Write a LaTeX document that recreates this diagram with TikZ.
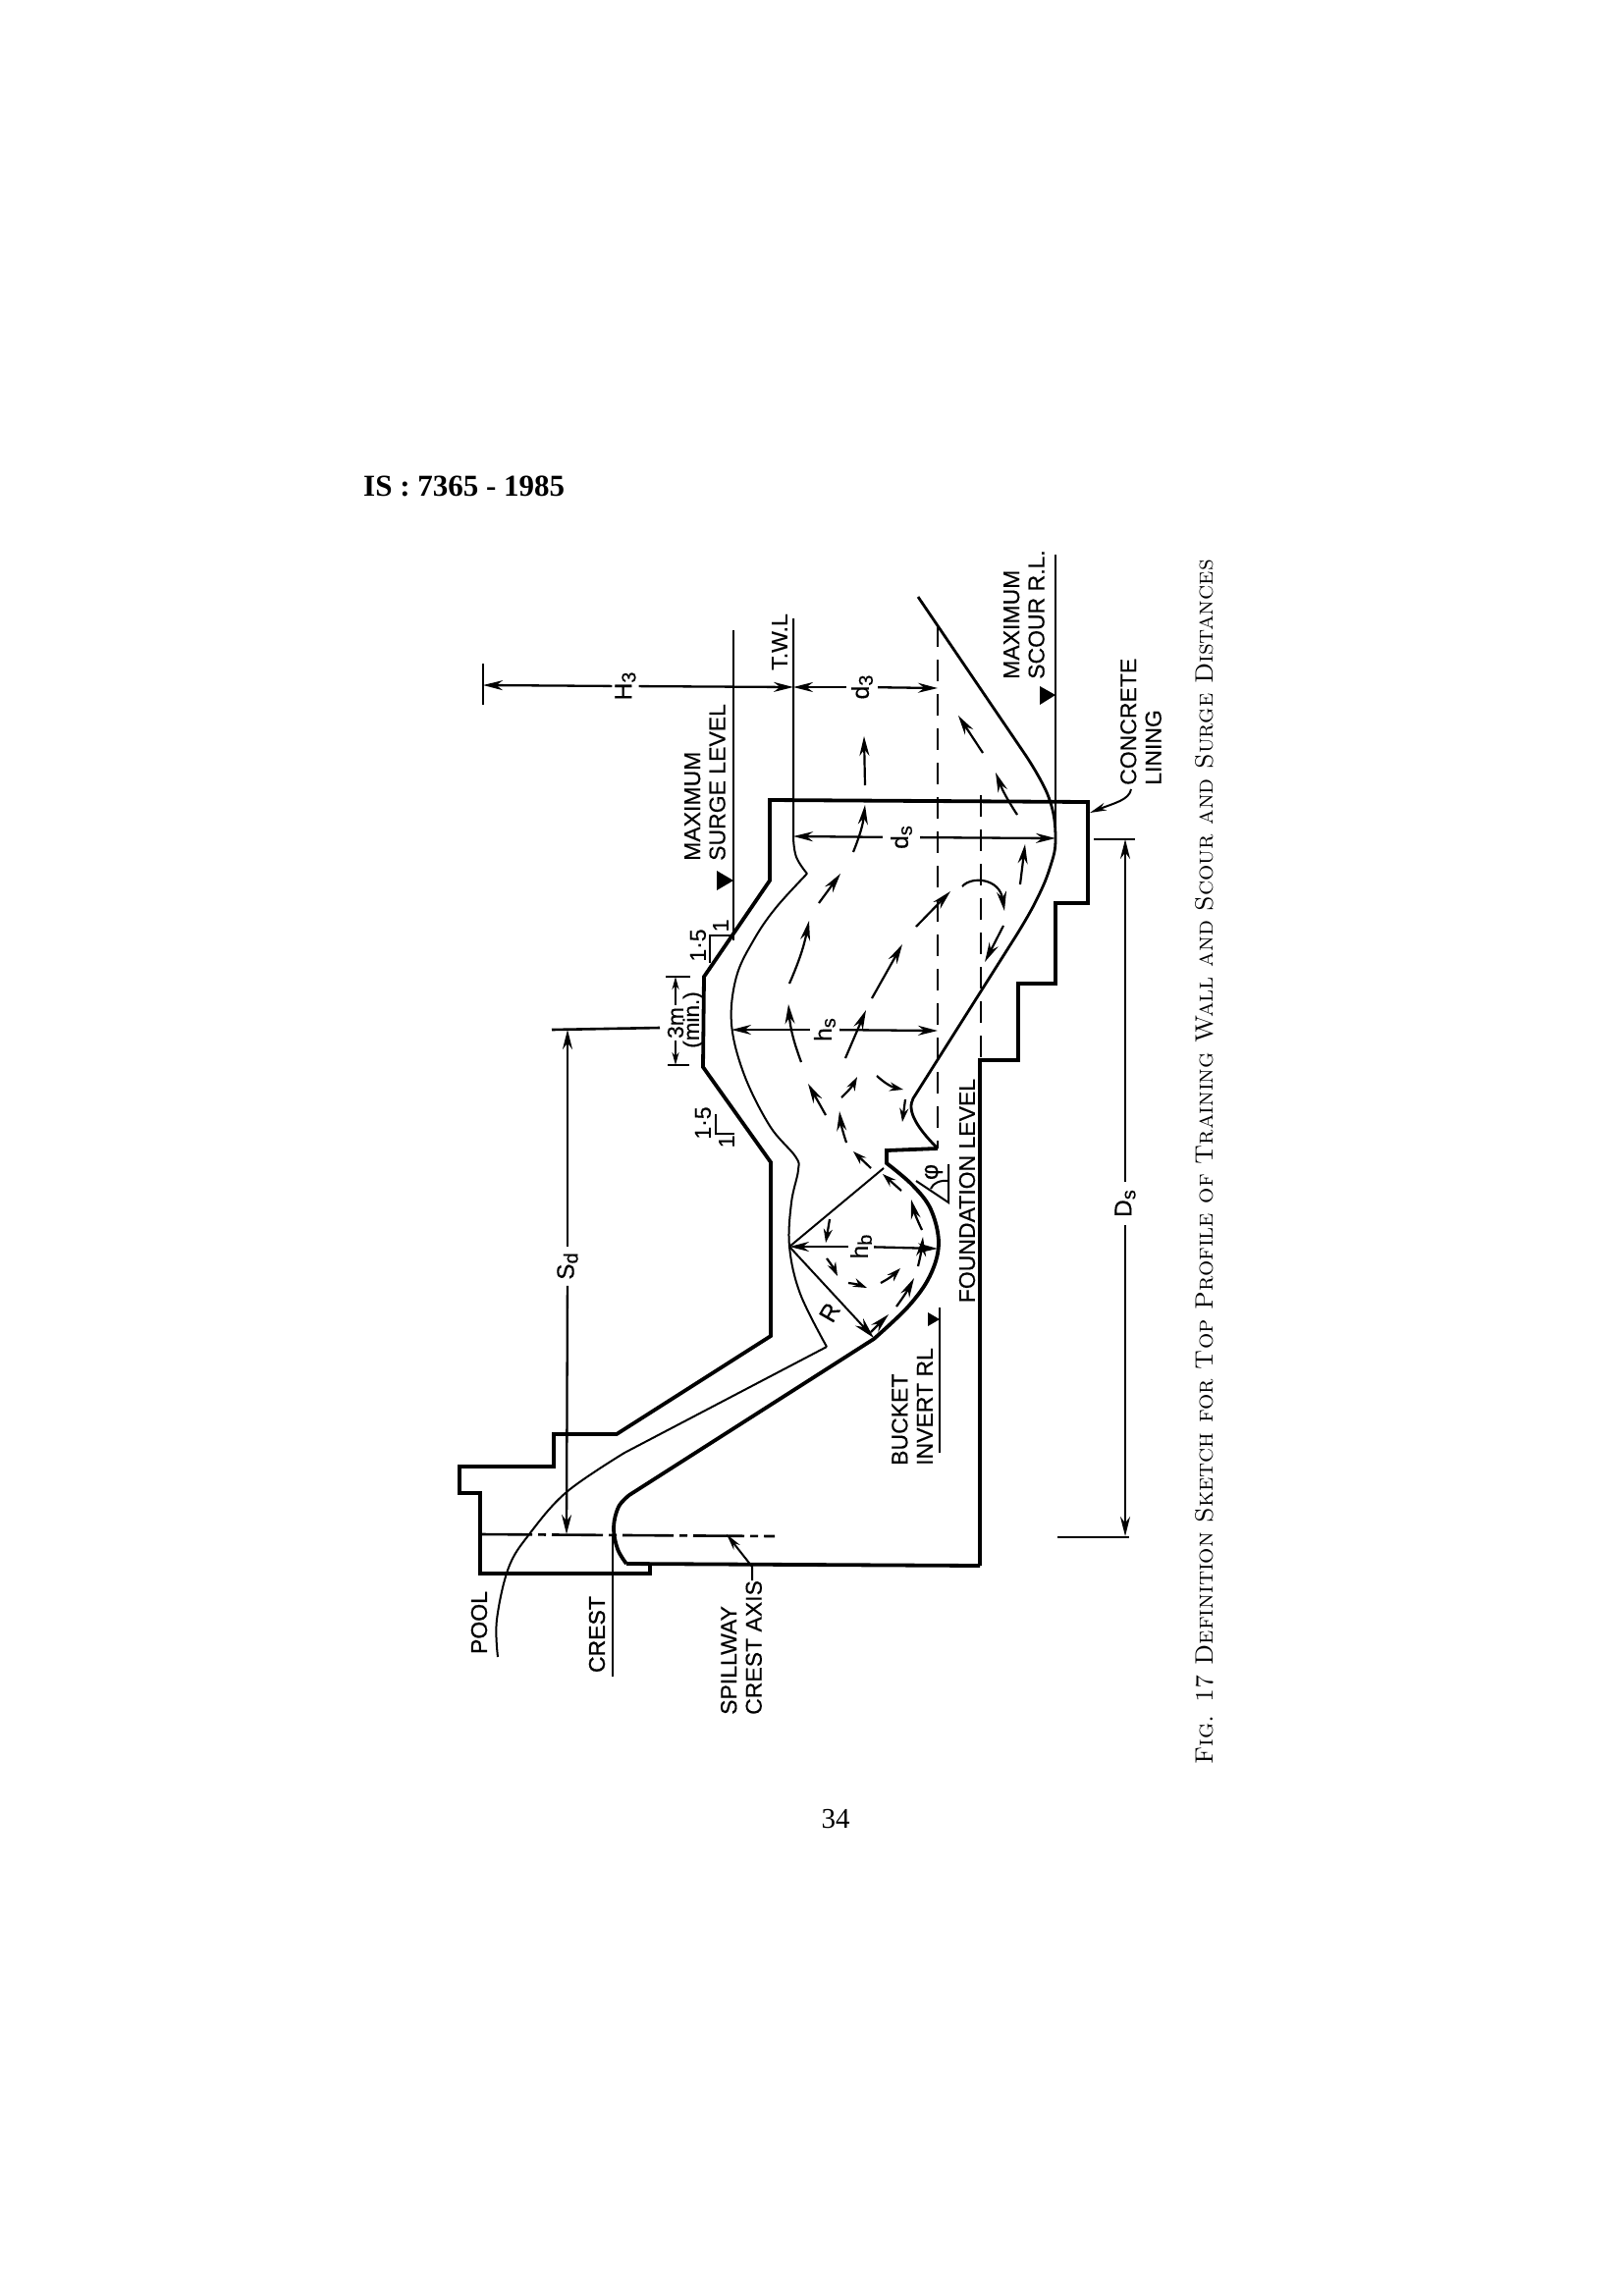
\documentclass[tikz,border=0pt]{standalone}
\usepackage{fontspec}
\usetikzlibrary{arrows.meta}
\newfontfamily\lblfont[FakeBold=0.35]{Liberation Sans}
\newfontfamily\lblbold[FakeBold=1]{Liberation Sans}
\newfontfamily\txtfont{Liberation Serif}
\newcommand{\lbl}{\lblfont\fontsize{23}{25.5}\selectfont}
\newcommand{\dlbl}{\lblfont\fontsize{24.5}{28}\selectfont}
\newcommand{\dsb}[1]{\raisebox{-4pt}{\fontsize{20}{20}\selectfont #1}}
\tikzset{
  heavy/.style={line width=3.8pt,line join=miter},
  medium/.style={line width=2.8pt,line join=round},
  thin/.style={line width=2pt},
  dashline/.style={line width=2.6pt,dash pattern=on 22pt off 13pt},
  dim/.style={line width=2.3pt,-{Stealth[length=20pt,width=10pt]}},
  flow/.style={line width=2.2pt,-{Stealth[length=20pt,width=10pt]}},
  flowsmall/.style={line width=2.2pt,-{Stealth[length=14pt,width=9pt]}},
  tag/.style={font=\lbl,rotate=90,inner sep=0pt,align=left},
  tri/.style={fill=black,draw=none},
  gaplabel/.style={font=\dlbl,rotate=90,inner sep=3pt}
}
\begin{document}
\begin{tikzpicture}[x=1pt,y=-1pt]
\useasboundingbox (0,0) rectangle (1653,2339);
% header, page number, caption
\node[font=\txtfont\bfseries\fontsize{31}{34}\selectfont,anchor=west,inner sep=0pt] (hdr) at (370,495) {IS : 7365 - 1985};
\node[font=\txtfont\fontsize{29}{32}\selectfont,inner sep=0pt] (pg) at (851,1853) {34};
\node[font=\fontsize{25.6}{30}\selectfont\scshape,rotate=90,anchor=west,inner sep=0pt] (cap) at (1227,1798) {Fig. 17 Definition Sketch for Top Profile of Training Wall and Scour and Surge Distances};
% structure
\draw[heavy] (998,1595) -- (998,1080) -- (1037,1080) -- (1037,1002) -- (1075,1002) -- (1075,920) -- (1108,920) -- (1108,817) -- (784,815) -- (784,897) -- (717,995) -- (716,1087) -- (785,1184) -- (785,1361) -- (628,1461) -- (564,1461) -- (564,1494) -- (468,1494) -- (468,1521) -- (489,1521) -- (489,1603) -- (662,1603) -- (662,1593);
\draw[heavy] (998,1595) -- (638,1593) plot[smooth,tension=0.6] coordinates {(638,1593) (629,1578) (625,1556) (630,1535) (641,1523)} -- (890,1364) plot[smooth,tension=0.6] coordinates {(890,1364) (925,1331) (947,1300) (956,1267) (948,1232) (929,1207) (903,1185)} -- (903,1172) -- (955,1170);
\draw[medium] (955,1170) .. controls (935,1150) and (923,1132) .. (930,1119) -- (1035,953) plot[smooth,tension=0.7] coordinates {(1035,953) (1054,920) (1069,885) (1075,853) (1068,812) (1045,770)} -- (935,608);
% water surface
\draw[thin] plot[smooth,tension=0.6] coordinates {(507,1688) (506,1650) (518,1597) (539,1563) (577,1520) (636,1480)} -- (842,1372) plot[smooth,tension=0.6] coordinates {(842,1372) (815,1318) (804,1270) (806,1225) (813,1192) (810,1178) (784,1147) (758,1095) (745,1043) (750,995) (768,957) (790,925) (822,890)} plot[smooth,tension=0.7] coordinates {(822,890) (811,873) (808,853)} -- (808,630);
% levels
\draw[thin] (747,642) -- (747,958);
\draw[medium] (624,1563) -- (624,1708);
\draw[thin] (957,1332) -- (957,1480);
\draw[thin] (1075,565) -- (1075,853);
\draw[dashline] (955,637) -- (955,1170);
\draw[dashline] (999,810) -- (999,1080);
\draw[line width=2.6pt,dash pattern=on 52pt off 6pt on 8pt off 6pt] (490,1563) -- (789,1565);
% level triangles
\fill[tri] (747,897) -- (730,887) -- (730,907) -- cycle;
\fill[tri] (1075,708) -- (1059,699) -- (1059,718) -- cycle;
\fill[tri] (957,1344) -- (945,1337) -- (945,1351) -- cycle;
% slope marks
\draw[thin] (745,953) -- (723,953) -- (723,981);
\draw[thin] (729,1135) -- (729,1155) -- (748,1155);
\node[tag] (slopeA) at (711,963) {1·5};
\node[tag] (slopeB) at (734,943) {1};
\node[tag] (slopeC) at (716,1144) {1·5};
\node[tag] (slopeD) at (740,1163) {1};
% radii
\coordinate (bc) at (804,1270);
\coordinate (rtip) at (890,1363);
\draw[thin] (bc) -- (900,1190);
\draw[thin,-{Stealth[length=22pt,width=11pt]}] (bc) -- (rtip);
\node[tag,rotate=-30,font=\dlbl] (Rl) at (845,1337) {R};
% phi
\draw[thin] (933,1203) -- (966,1225) -- (966,1186);
\draw[thin] (948,1211) .. controls (950,1205) and (958,1202) .. (966,1203);
\node[font=\dlbl,rotate=90,inner sep=0pt] (phi) at (951,1194) {φ};
% dimension labels
\node[gaplabel] (H3) at (637,699) {H\dsb{3}};
\node[gaplabel,inner sep=5pt] (d3) at (878,700) {d\dsb{3}};
\node[gaplabel,inner sep=8pt] (ds) at (918,853) {d\dsb{s}};
\node[gaplabel,inner sep=4pt] (hs) at (840,1049) {h\dsb{s}};
\node[gaplabel,inner sep=2pt] (hb) at (877,1270) {h\dsb{b}};
\node[gaplabel,inner sep=6pt] (Sd) at (578,1290) {S\dsb{d}};
\node[gaplabel,inner sep=8pt] (Ds) at (1146,1226) {D\dsb{s}};
% dimensions
\coordinate (H3a) at (492,698); \coordinate (H3b) at (808,700);
\draw[line width=2.6pt] (492,676) -- (492,718);
\draw[dim] (H3) -- (H3a);
\draw[dim] (H3) -- (H3b);
\coordinate (d3a) at (808,700); \coordinate (d3b) at (955,701);
\draw[dim] (d3) -- (d3a);
\draw[dim] (d3) -- (d3b);
\coordinate (dsa) at (808,852); \coordinate (dsb) at (1075,854);
\draw[dim] (ds) -- (dsa);
\draw[dim] (ds) -- (dsb);
\coordinate (hsa) at (745,1049); \coordinate (hsb) at (955,1050);
\draw[dim] (hs) -- (hsa);
\draw[dim] (hs) -- (hsb);
\coordinate (hba) at (804,1270); \coordinate (hbb) at (955,1272);
\draw[dim] (hb) -- (hba);
\draw[dim] (hb) -- (hbb);
\coordinate (Sda) at (578,1049); \coordinate (Sdb) at (577,1563);
\draw[line width=2.6pt] (562,1049) -- (672,1047);
\draw[dim] (Sd) -- (Sda);
\draw[dim] (Sd) -- (Sdb);
\coordinate (Dsa) at (1146,855); \coordinate (Dsb) at (1146,1565);
\draw[line width=2.6pt] (1114,855) -- (1156,855);
\draw[line width=2.6pt] (1077,1566) -- (1150,1566);
\draw[dim] (Ds) -- (Dsa);
\draw[dim] (Ds) -- (Dsb);
% 3 m minimum
\draw[thin] (678,995) -- (703,995);
\draw[thin] (680,1085) -- (702,1085);
\coordinate (m3a) at (688,995); \coordinate (m3b) at (688,1085);
\node[font=\lbl,rotate=90,inner sep=2pt] (m3) at (688,1042) {3m};
\node[font=\lblfont\fontsize{22.5}{24}\selectfont,rotate=90,inner sep=0pt] (mn) at (706,1039) {(min.)};
\draw[thin,-{Stealth[length=13pt,width=7pt]}] (m3) -- (m3a);
\draw[thin,-{Stealth[length=13pt,width=7pt]}] (m3) -- (m3b);
% text labels
\node[tag,font=\lblbold\fontsize{23}{25}\selectfont] (poolt) at (488,1653) {POOL};
\node[tag,font=\lblbold\fontsize{23}{25}\selectfont] (crest) at (608,1665) {CREST};
\node[tag,anchor=west] (spill) at (755,1747) {SPILLWAY\\CREST AXIS};
\node[tag,anchor=west] (buck) at (929,1493) {BUCKET\\INVERT RL};
\node[tag] (found) at (985,1213) {FOUNDATION LEVEL};
\node[tag,anchor=west] (surge) at (718,877) {MAXIMUM\\SURGE LEVEL};
\node[tag] (twl) at (794,654) {T.W.L};
\node[tag,anchor=west] (scour) at (1043,692) {MAXIMUM\\SCOUR R.L.};
\node[tag,anchor=west] (lining) at (1162,800) {CONCRETE\\LINING};
% leaders
\coordinate (spT) at (740,1563);
\draw[thin,-{Stealth[length=17pt,width=8pt]}] (766,1610) -- (766,1596) -- (spT);
\coordinate (lnT) at (1110,828);
\draw[thin,-{Stealth[length=17pt,width=8pt]}] (1152,804) .. controls (1150,815) and (1135,818) .. (lnT);
% flow arrows
\draw[flow] (816,1082) to[bend left=8] (803,1023);
\draw[flow] (804,1002) to[bend left=-6] (824,938);
\draw[flow] (834,920) -- (856,890);
\draw[flow] (869,868) to[bend left=-8] (881,820);
\draw[flow] (881,800) -- (880,750);
\draw[flow] (861,1078) -- (882,1029);
\draw[flow] (888,1017) -- (919,962);
\draw[flow] (933,944) -- (968,908);
\draw[flow] (980,903) .. controls (990,892) and (1018,895) .. (1023,928);
\draw[flow] (1022,943) -- (1003,980);
\draw[flow] (1039,901) -- (1044,860);
\draw[flow] (1036,830) to[bend left=6] (1014,787);
\draw[flow] (1001,767) -- (976,729);
\draw[flow] (841,1136) -- (823,1104);
\draw[flow] (862,1164) to[bend left=6] (855,1132);
\draw[flowsmall] (857,1118) to[bend left=-10] (873,1097);
\draw[flowsmall] (893,1096) to[bend left=-15] (920,1110);
\draw[flowsmall] (922,1120) -- (919,1143);
\draw[flowsmall] (887,1190) -- (869,1173);
\draw[flowsmall] (918,1213) -- (899,1196);
\draw[flow] (939,1253) to[bend left=6] (928,1222);
\draw[flow] (935,1290) to[bend left=-4] (940,1260);
\draw[flow] (913,1331) to[bend left=-4] (931,1302);
\draw[flow] (887,1357) -- (905,1339);
\draw[flowsmall] (897,1307) to[bend left=-8] (917,1292);
\draw[flowsmall] (864,1307) to[bend left=8] (883,1312);
\draw[flowsmall] (842,1282) to[bend left=6] (853,1300);
\draw[flowsmall] (845,1242) -- (841,1266);
\end{tikzpicture}
\end{document}
